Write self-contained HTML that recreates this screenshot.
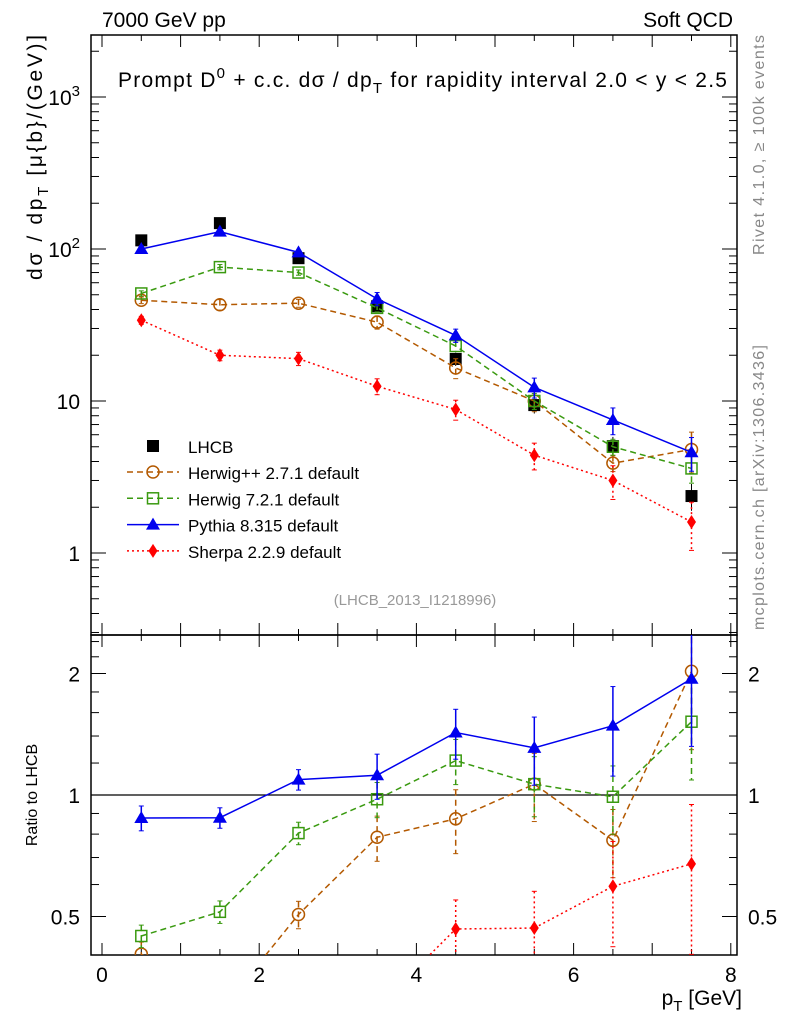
<!DOCTYPE html>
<html><head><meta charset="utf-8"><style>
html,body{margin:0;padding:0;background:#fff;overflow:hidden;width:786px;height:1024px}
svg{display:block}
svg text{font-family:"Liberation Sans","DejaVu Sans",sans-serif}
</style></head><body>
<svg id="c" width="786" height="1024" xmlns="http://www.w3.org/2000/svg"></svg>
<script>
const pts=[0.5,1.5,2.5,3.5,4.5,5.5,6.5,7.5];
const lhcb=[114,148,87,42,18.9,9.4,5.05,2.37];
const lhcbErr=[0.05,0.05,0.05,0.08,0.1,0.12,0.15,0.2];
const herwigpp=[46,43,44,33,16.5,10,3.9,4.8];
const herwigppErr=[0.05,0.08,0.06,0.1,0.15,0.15,0.12,0.3];
const herwig7=[51,76,70,41,23,10,5.0,3.6];
const herwig7Err=[0.04,0.04,0.04,0.06,0.08,0.12,0.12,0.2];
const pythia=[100,130,95,47,27,12.3,7.5,4.6];
const pythiaErr=[0.05,0.03,0.03,0.1,0.1,0.15,0.2,0.25];
const sherpa=[34,20,19,12.5,8.8,4.4,3.0,1.6];
const sherpaErr=[0.06,0.08,0.1,0.12,0.15,0.2,0.25,0.35];
const xTicks=[0,2,4,6,8];
const yTicks=[1,10,100,1000];
const yTickLabels=["1","10","10²","10³"];
const rTicks=[0.5,1,2];
const rTickLabels=["0.5","1","2"];

const NS="http://www.w3.org/2000/svg";
const svg=document.getElementById('c');
const L=91,R=737,T=35,MB=635,RB=955;
const X=v=>102+v*78.6;
const Y=v=>553-152*Math.log10(v);
const RY=v=>795-121.5*Math.log2(v);
function el(tag,at,txt,parent){const e=document.createElementNS(NS,tag);for(const k in at)e.setAttribute(k,at[k]);if(txt!==undefined)e.textContent=txt;(parent||svg).appendChild(e);return e;}
const defs=el('defs',{});
const c1=el('clipPath',{id:'cm'},undefined,defs);el('rect',{x:L,y:T,width:R-L,height:MB-T},undefined,c1);
const c2=el('clipPath',{id:'cr'},undefined,defs);el('rect',{x:L,y:MB,width:R-L,height:RB-MB},undefined,c2);

let f=el('rect',{x:L,y:T,width:R-L,height:MB-T,fill:'none',stroke:'#000','stroke-width':1.5});

f=el('rect',{x:L,y:MB,width:R-L,height:RB-MB,fill:'none',stroke:'#000','stroke-width':1.5});


for(let v=0;v<=8.01;v+=0.5){const maj=Math.abs(v-Math.round(v))<1e-6;const len=maj?12:6;
 for(const [t,b] of [[T,MB],[MB,RB]]){el('line',{x1:X(v),x2:X(v),y1:b,y2:b-len,stroke:'#000'});el('line',{x1:X(v),x2:X(v),y1:t,y2:t+len,stroke:'#000'});}}
xTicks.forEach(v=>{const t=el('text',{x:X(v),y:982,'font-size':21,'text-anchor':'middle'},String(v));
 });
for(let d=-1;d<=3;d++)for(let m=1;m<=9;m++){const v=m*Math.pow(10,d);const y=Y(v);if(y<T||y>MB)continue;const len=m==1?15:8;
 el('line',{x1:L,x2:L+len,y1:y,y2:y,stroke:'#000'});el('line',{x1:R,x2:R-len,y1:y,y2:y,stroke:'#000'});}
yTicks.forEach((v,i)=>{let t;
 if(i>=2){t=el('text',{x:80,y:Y(v)+8,'font-size':21,'text-anchor':'end'});el('tspan',{},'10',t);el('tspan',{dy:-9,'font-size':15},String(i),t);}
 else t=el('text',{x:80,y:Y(v)+8,'font-size':21,'text-anchor':'end'},yTickLabels[i]);
 });
[0.4,0.5,0.6,0.7,0.8,0.9,1,1.2,1.4,1.6,1.8,2,2.2,2.4].forEach(v=>{const y=RY(v);if(y<MB||y>RB)return;const maj=[0.5,1,2].includes(v);const len=maj?15:8;
 el('line',{x1:L,x2:L+len,y1:y,y2:y,stroke:'#000'});el('line',{x1:R,x2:R-len,y1:y,y2:y,stroke:'#000'});});
rTicks.forEach((v,i)=>{let t=el('text',{x:80,y:RY(v)+8,'font-size':21,'text-anchor':'end'},rTickLabels[i]);
 
 t=el('text',{x:748,y:RY(v)+8,'font-size':21},rTickLabels[i]);
 });
let ln=el('line',{x1:L,x2:R,y1:RY(1),y2:RY(1),stroke:'#000','stroke-width':1.3});


function marker(g,type,x,y,col){
 if(type=='sq')el('rect',{x:x-6,y:y-6,width:12,height:12,fill:'#000'},undefined,g);
 if(type=='osq')el('rect',{x:x-5.5,y:y-5.5,width:11,height:11,fill:'none',stroke:col,'stroke-width':1.5},undefined,g);
 if(type=='oc')el('circle',{cx:x,cy:y,r:6,fill:'none',stroke:col,'stroke-width':1.5},undefined,g);
 if(type=='tri')el('polygon',{points:`${x},${y-7} ${x-7},${y+5} ${x+7},${y+5}`,fill:col},undefined,g);
 if(type=='dia')el('polygon',{points:`${x},${y-7} ${x-4.5},${y} ${x},${y+7} ${x+4.5},${y}`,fill:col},undefined,g);
}
const series=[
 {name:'herwigpp',vals:herwigpp,err:herwigppErr,col:'#b35900',dash:'6,4',m:'oc',label:'Herwig++ 2.7.1 default'},
 {name:'herwig7',vals:herwig7,err:herwig7Err,col:'#3a9a10',dash:'6,4',m:'osq',label:'Herwig 7.2.1 default'},
 {name:'pythia',vals:pythia,err:pythiaErr,col:'#0000ee',dash:'',m:'tri',label:'Pythia 8.315 default'},
 {name:'sherpa',vals:sherpa,err:sherpaErr,col:'#ff0000',dash:'2,3',m:'dia',label:'Sherpa 2.2.9 default'}];

let g=el('g',{'clip-path':'url(#cm)'});
lhcb.forEach((v,i)=>{el('line',{x1:X(pts[i]),x2:X(pts[i]),y1:Y(v*(1+lhcbErr[i])),y2:Y(v*(1-lhcbErr[i])),stroke:'#000'},undefined,g);marker(g,'sq',X(pts[i]),Y(v));});

series.forEach(s=>{
 const gm=el('g',{'clip-path':'url(#cm)'});
 el('polyline',{points:s.vals.map((v,i)=>X(pts[i])+','+Y(v)).join(' '),fill:'none',stroke:s.col,'stroke-width':1.5,'stroke-dasharray':s.dash},undefined,gm);
 s.vals.forEach((v,i)=>{const x=X(pts[i]);el('line',{x1:x,x2:x,y1:Y(v*(1+s.err[i])),y2:Y(v*(1-s.err[i])),stroke:s.col,'stroke-width':1.5,'stroke-dasharray':s.dash},undefined,gm);
  el('line',{x1:x-2.5,x2:x+2.5,y1:Y(v*(1+s.err[i])),y2:Y(v*(1+s.err[i])),stroke:s.col},undefined,gm);
  el('line',{x1:x-2.5,x2:x+2.5,y1:Y(v*(1-s.err[i])),y2:Y(v*(1-s.err[i])),stroke:s.col},undefined,gm);
  marker(gm,s.m,x,Y(v),s.col);});
 const gr=el('g',{'clip-path':'url(#cr)'});
 const r=s.vals.map((v,i)=>v/lhcb[i]);
 el('polyline',{points:r.map((v,i)=>X(pts[i])+','+RY(v)).join(' '),fill:'none',stroke:s.col,'stroke-width':1.5,'stroke-dasharray':s.dash},undefined,gr);
 r.forEach((v,i)=>{const x=X(pts[i]);const e=Math.sqrt(s.err[i]**2+lhcbErr[i]**2);
  el('line',{x1:x,x2:x,y1:RY(v*(1+e)),y2:RY(v*(1-e)),stroke:s.col,'stroke-width':1.5,'stroke-dasharray':s.dash},undefined,gr);
  el('line',{x1:x-2.5,x2:x+2.5,y1:RY(v*(1+e)),y2:RY(v*(1+e)),stroke:s.col},undefined,gr);
  el('line',{x1:x-2.5,x2:x+2.5,y1:RY(v*(1-e)),y2:RY(v*(1-e)),stroke:s.col},undefined,gr);
  marker(gr,s.m,x,RY(v),s.col);});
});

const lg=el('g',{});
marker(lg,'sq',153,446,'#000');el('text',{x:188,y:453,'font-size':17},'LHCB',lg);
series.forEach((s,i)=>{const y=472+i*26.3;
 el('line',{x1:127,x2:179,y1:y,y2:y,stroke:s.col,'stroke-width':1.5,'stroke-dasharray':s.dash},undefined,lg);
 marker(lg,s.m,153,y,s.col);el('text',{x:188,y:y+7,'font-size':17},s.label,lg);});

function T2(x,y,size,txt,name,extra){const t=el('text',Object.assign({x:x,y:y,'font-size':size},extra||{}),txt);return t;}
T2(102,27,21,'7000 GeV pp','energy-label');
T2(733,27,21,'Soft QCD','process-label',{'text-anchor':'end'});
let tt=T2(118,87,21,'','plot-title',{textLength:609,lengthAdjust:'spacing'});
el('tspan',{},'Prompt D',tt);el('tspan',{dy:-9,'font-size':15},'0',tt);el('tspan',{dy:9},' + c.c.  dσ / dp',tt);el('tspan',{dy:6,'font-size':15},'T',tt);el('tspan',{dy:-6},' for rapidity interval 2.0 < y < 2.5',tt);
T2(415,605,15,'(LHCB_2013_I1218996)','analysis-id',{fill:'#999','text-anchor':'middle'});
tt=T2(0,0,21,'','y-axis-title',{transform:'translate(42,280) rotate(-90)',textLength:245,lengthAdjust:'spacing'});
el('tspan',{},'dσ / dp',tt);el('tspan',{dy:6,'font-size':15},'T',tt);el('tspan',{dy:-6},' [μ{b}/(GeV)]',tt);
T2(0,0,16,'Ratio to LHCB','ratio-axis-title',{transform:'translate(37,795) rotate(-90)','text-anchor':'middle'});
tt=T2(742,1005,21,'','x-axis-title',{'text-anchor':'end'});
el('tspan',{},'p',tt);el('tspan',{dy:6,'font-size':15},'T',tt);el('tspan',{dy:-6},' [GeV]',tt);
T2(0,0,16,'Rivet 4.1.0, ≥ 100k events','rivet-version-label',{transform:'translate(764,255) rotate(-90)',textLength:220,lengthAdjust:'spacing',fill:'#888'});
T2(0,0,16,'mcplots.cern.ch [arXiv:1306.3436]','mcplots-label',{transform:'translate(764,630) rotate(-90)',textLength:285,lengthAdjust:'spacing',fill:'#888'});
</script>
</body></html>
